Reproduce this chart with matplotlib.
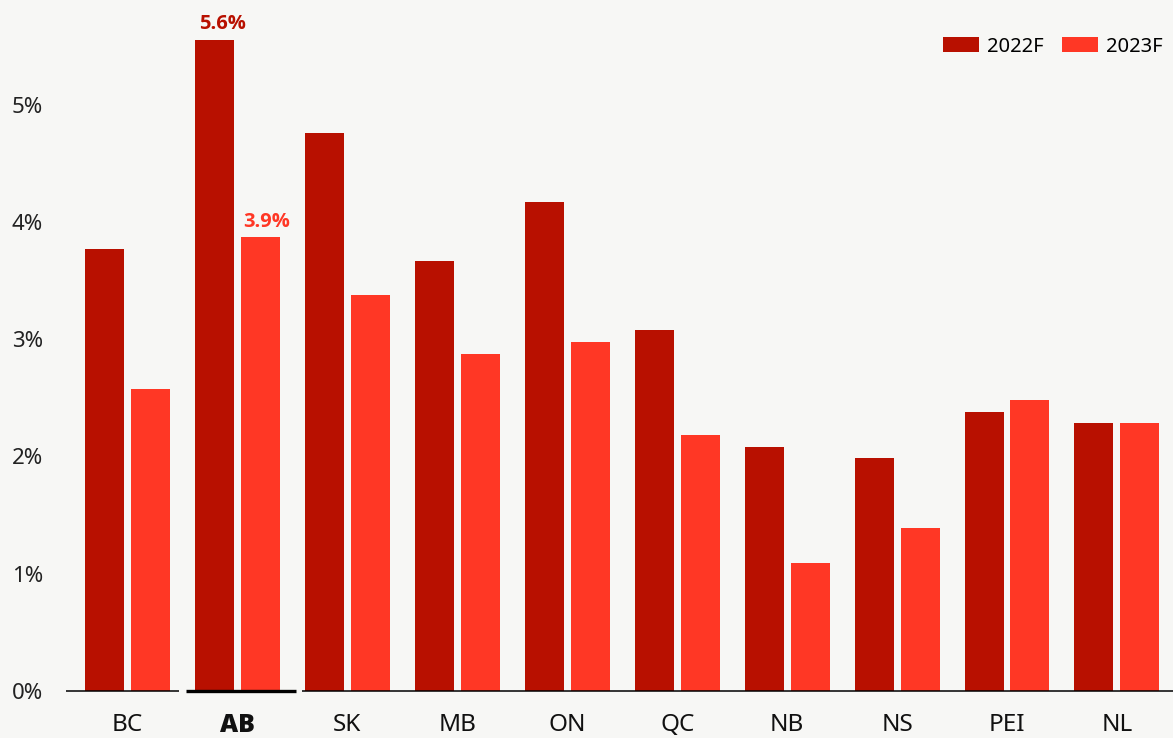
import numpy as np
import matplotlib.pyplot as plt

plt.rcParams['font.family'] = ['Noto Sans', 'DejaVu Sans']

provinces = ['BC', 'AB', 'SK', 'MB', 'ON', 'QC', 'NB', 'NS', 'PEI', 'NL']
growth_2022 = [3.8, 5.6, 4.8, 3.7, 4.2, 3.1, 2.1, 2.0, 2.4, 2.3]
growth_2023 = [2.6, 3.9, 3.4, 2.9, 3.0, 2.2, 1.1, 1.4, 2.5, 2.3]
y_ticks = [0, 1, 2, 3, 4, 5]
highlight = 'AB'

c22 = '#b81000'
c23 = '#ff3725'
bg = '#f7f7f5'
bold_font = ['Open Sans', 'DejaVu Sans']

fig = plt.figure(figsize=(11.73, 7.38), dpi=100, facecolor=bg)
ax = fig.add_axes([66 / 1173, 47 / 738, 1 - 66 / 1173, 1 - 47 / 738])
ax.set_facecolor(bg)

x = np.arange(len(provinces))
w = 0.355
off = 0.209
ax.bar(x - off, growth_2022, w, color=c22, label='2022F')
ax.bar(x + off, growth_2023, w, color=c23, label='2023F')

# baseline: broken around the highlighted group, which gets a thicker piece
h = provinces.index(highlight)
xmin, xmax = -0.56, 9.51
ax.plot([xmin, h - 0.53], [0, 0], color='black', lw=1.1,
        solid_capstyle='butt', clip_on=False, zorder=3)
ax.plot([h - 0.47, h + 0.53], [0, 0], color='black', lw=2.4,
        solid_capstyle='butt', clip_on=False, zorder=3)
ax.plot([h + 0.59, xmax], [0, 0], color='black', lw=1.1,
        solid_capstyle='butt', clip_on=False, zorder=3)

# labels on the highlighted group
ax.text(h - off + 0.07, growth_2022[h] + 0.045, f'{growth_2022[h]}%', color=c22,
        ha='center', va='bottom', fontsize=14.5, fontweight='bold', family=bold_font)
ax.text(h + off + 0.06, growth_2023[h] + 0.045, f'{growth_2023[h]}%', color=c23,
        ha='center', va='bottom', fontsize=14.5, fontweight='bold', family=bold_font)

ax.set_xlim(xmin, xmax)
ax.set_ylim(0, 5.94)
ax.set_xticks(x)
ax.set_xticklabels(provinces, fontsize=17.5, color='#111111')
for lbl in ax.get_xticklabels():
    if lbl.get_text() == highlight:
        lbl.set_fontweight('heavy')
        lbl.set_family(bold_font)
        lbl.set_fontsize(18)
ax.tick_params(axis='x', length=0, pad=16)

# y labels drawn by hand (left aligned at the figure edge)
ax.set_yticks([])
ytr = ax.get_yaxis_transform()
for v in y_ticks:
    ax.text(-54 / 1107, v * 1.008, f'{v}%', transform=ytr, ha='left',
            va='center_baseline', fontsize=16, color='#222222')

for s in ax.spines.values():
    s.set_visible(False)

ax.legend(loc='upper right', bbox_to_anchor=(1.007, 0.973), ncol=2, frameon=False,
          fontsize=14.5, handlelength=1.8, handleheight=0.8, columnspacing=0.9,
          handletextpad=0.4)

fig.savefig('out.png', dpi=100, facecolor=bg)
